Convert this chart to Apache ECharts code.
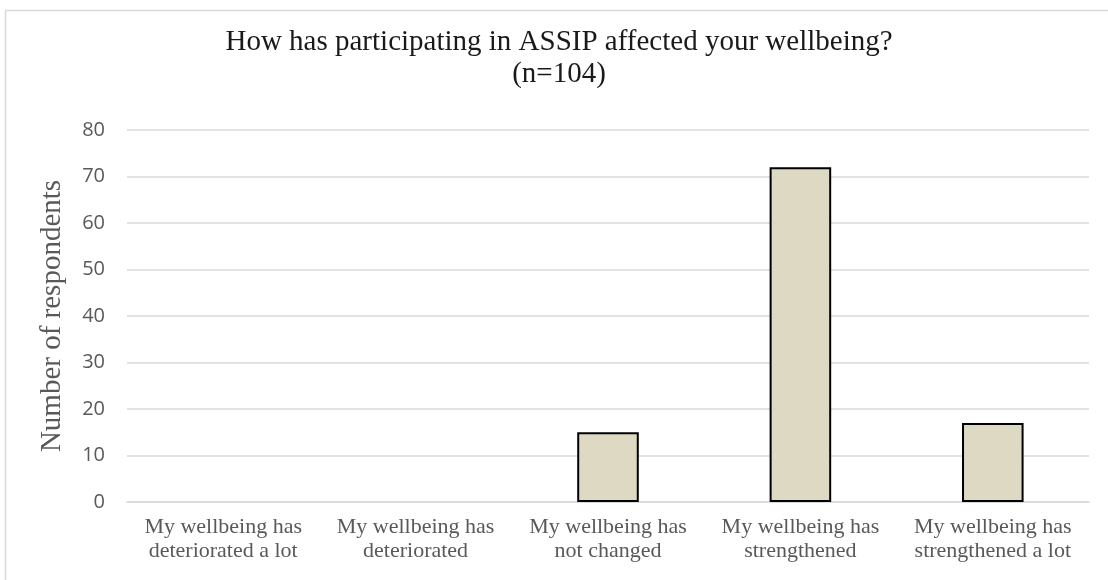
<!DOCTYPE html>
<html>
<head>
<meta charset="utf-8">
<script src="https://cdn.jsdelivr.net/npm/echarts@6/dist/echarts.min.js"></script>
<style>
  html, body { margin: 0; padding: 0; background: #fff; }
  #chart { width: 1108px; height: 580px; }
</style>
</head>
<body>
<div id="chart"></div>
<script>
// Survey responses: effect of ASSIP participation on wellbeing
const categories = [
  'My wellbeing has\ndeteriorated a lot',
  'My wellbeing has\ndeteriorated',
  'My wellbeing has\nnot changed',
  'My wellbeing has\nstrengthened',
  'My wellbeing has\nstrengthened a lot'
];
const respondents = [0, 0, 15, 72, 17];
const yTicks = [0, 10, 20, 30, 40, 50, 60, 70, 80];

const serif = "'Liberation Serif', 'DejaVu Serif', serif";
const sans = "'Open Sans', 'Noto Sans', sans-serif";

// empty categories get no outline so nothing is drawn on the baseline
const barData = respondents.map(v => ({
  value: v,
  itemStyle: v === 0 ? { borderWidth: 0 } : undefined
}));

const chart = echarts.init(document.getElementById('chart'), null, { renderer: 'canvas' });

chart.setOption({
  animation: false,
  backgroundColor: '#ffffff',
  title: {
    text: 'How has participating in ASSIP affected your wellbeing?\n(n=104)',
    left: 554,
    top: 21,
    textAlign: 'center',
    textStyle: {
      fontFamily: serif,
      fontSize: 29,
      fontWeight: 'normal',
      color: '#1a1a1a',
      lineHeight: 32
    }
  },
  graphic: [{
    type: 'rect',
    shape: { x: 5.5, y: 10.5, width: 1200, height: 700 },
    style: { fill: 'none', stroke: '#d9d9d9', lineWidth: 1.5 },
    silent: true
  }],
  grid: { left: 127, right: 19, top: 130, bottom: 78 },
  xAxis: {
    type: 'category',
    data: categories,
    axisLine: { show: true, lineStyle: { color: '#d9d9d9', width: 1.5 } },
    axisTick: { show: false },
    axisLabel: {
      interval: 0,
      fontFamily: serif,
      fontSize: 22,
      color: '#595959',
      lineHeight: 24,
      margin: 13
    }
  },
  yAxis: {
    type: 'value',
    min: yTicks[0],
    max: yTicks[yTicks.length - 1],
    interval: 10,
    name: 'Number of respondents',
    nameLocation: 'middle',
    nameGap: 60,
    nameTextStyle: {
      fontFamily: serif,
      fontSize: 29,
      color: '#595959'
    },
    axisLine: { show: false },
    axisTick: { show: false },
    axisLabel: {
      fontFamily: sans,
      fontSize: 20,
      color: '#595959',
      margin: 22
    },
    splitLine: { lineStyle: { color: '#d9d9d9', width: 1.5 } }
  },
  series: [{
    type: 'bar',
    data: barData,
    barWidth: '32%',
    itemStyle: {
      color: '#ddd9c3',
      borderColor: '#000000',
      borderWidth: 2
    }
  }]
});
</script>
</body>
</html>
